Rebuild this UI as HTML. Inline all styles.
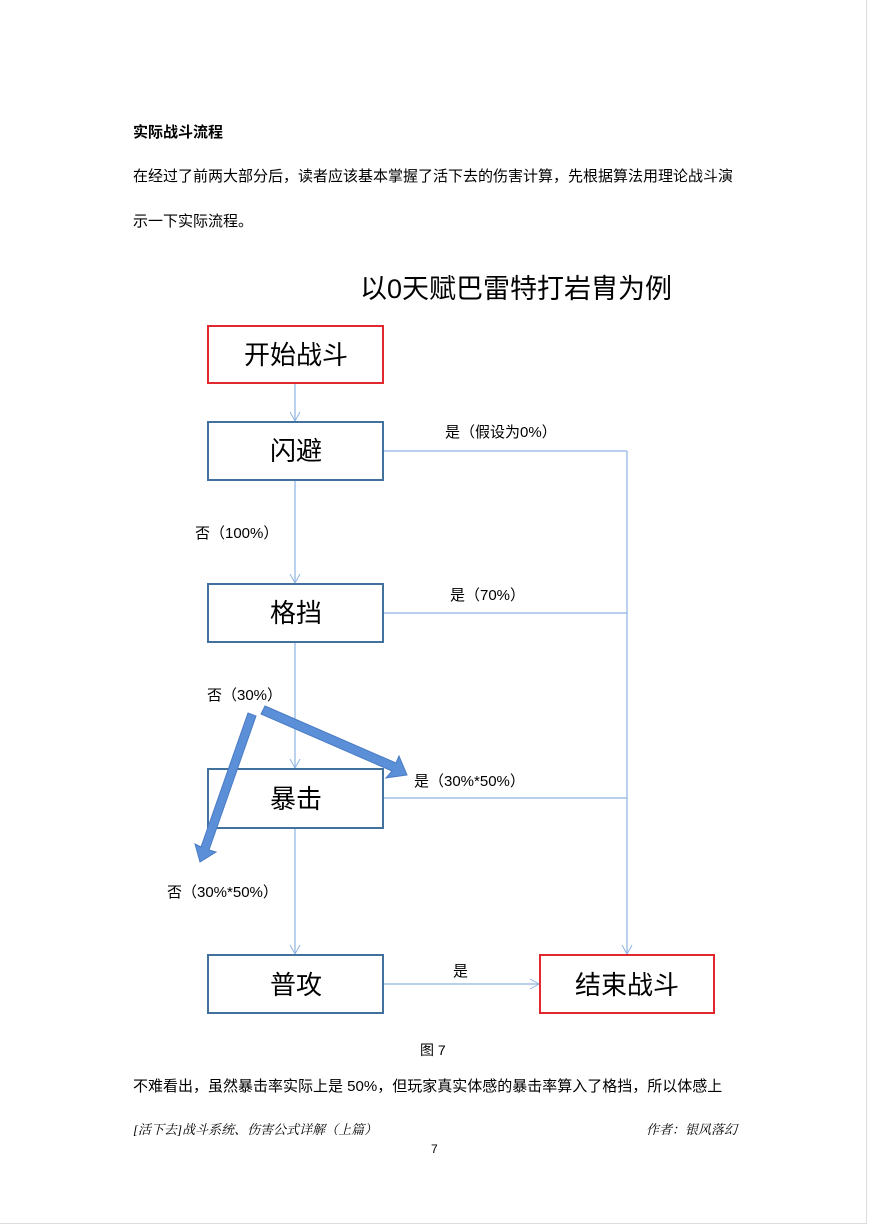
<!DOCTYPE html>
<html><head><meta charset="utf-8"><style>
body{margin:0;width:871px;height:1228px;background:#fff;position:relative;overflow:hidden;font-family:"Liberation Sans","Noto Sans CJK SC",sans-serif;color:#000}
.t{position:absolute;white-space:nowrap}
</style></head><body>
<div style="position:absolute;left:0;top:0;width:866px;height:1223px;border-right:1px solid #ddd;border-bottom:1px solid #ddd"></div>
<div class="t" style="left:133px;top:121px;font-size:15px;font-weight:bold">实际战斗流程</div>
<div class="t" style="left:133px;top:165px;font-size:15px">在经过了前两大部分后，读者应该基本掌握了活下去的伤害计算，先根据算法用理论战斗演</div>
<div class="t" style="left:133px;top:210px;font-size:15px">示一下实际流程。</div>
<div class="t" style="left:360px;top:267px;font-size:27px">以0天赋巴雷特打岩胄为例</div>
<svg width="871" height="1228" style="position:absolute;left:0;top:0" font-family="Liberation Sans, Noto Sans CJK SC, sans-serif">
<defs><marker id="a" markerWidth="12" markerHeight="12" refX="10" refY="6" orient="auto" markerUnits="userSpaceOnUse"><path d="M1,1 L10,6 L1,11" fill="none" stroke="#8eb4e3" stroke-width="1"/></marker></defs>
<g stroke="#8eb4e3" stroke-width="1.2" fill="none">
<line x1="295" y1="383" x2="295" y2="421" marker-end="url(#a)"/>
<line x1="295" y1="480" x2="295" y2="583" marker-end="url(#a)"/>
<line x1="295" y1="642" x2="295" y2="768" marker-end="url(#a)"/>
<line x1="295" y1="828" x2="295" y2="954" marker-end="url(#a)"/>
<line x1="383" y1="451" x2="627" y2="451"/>
<line x1="383" y1="613" x2="627" y2="613"/>
<line x1="383" y1="798" x2="627" y2="798"/>
<line x1="627" y1="451" x2="627" y2="954" marker-end="url(#a)"/>
<line x1="383" y1="984" x2="539" y2="984" marker-end="url(#a)"/>
</g>
<g stroke-width="2" fill="#fff">
<rect x="208" y="326" width="175" height="57" stroke="#e0282e"/>
<rect x="208" y="422" width="175" height="58" stroke="#41719c"/>
<rect x="208" y="584" width="175" height="58" stroke="#41719c"/>
<rect x="208" y="769" width="175" height="59" stroke="#41719c"/>
<rect x="208" y="955" width="175" height="58" stroke="#41719c"/>
<rect x="540" y="955" width="174" height="58" stroke="#e0282e"/>
</g>
<g font-size="26" text-anchor="middle">
<text x="296" y="364">开始战斗</text>
<text x="296" y="460">闪避</text>
<text x="296" y="622">格挡</text>
<text x="296" y="808">暴击</text>
<text x="296" y="994">普攻</text>
<text x="627" y="994">结束战斗</text>
</g>
<g font-size="15">
<text x="445" y="437">是（假设为0%）</text>
<text x="195" y="538">否（100%）</text>
<text x="450" y="600">是（70%）</text>
<text x="207" y="700">否（30%）</text>
<text x="414" y="786">是（30%*50%）</text>
<text x="167" y="897">否（30%*50%）</text>
<text x="453" y="976">是</text>
</g>
<g fill="#5b8fd8" stroke="#4a7cc4" stroke-width="1">
<polygon points="265,706 396,763 399,756 407,775 386,778 392,771 261,714"/>
<polygon points="248,713 256,716 209,850 216,852 200,862 195,844 201,847"/>
</g>
</svg>
<div class="t" style="left:420px;top:1040px;font-size:14px">图 7</div>
<div class="t" style="left:133px;top:1075px;font-size:15px">不难看出，虽然暴击率实际上是 50%，但玩家真实体感的暴击率算入了格挡，所以体感上</div>
<div class="t" style="left:133px;top:1119px;font-size:13px;font-style:italic;font-family:'Liberation Serif','Noto Serif CJK SC',serif">[活下去]战斗系统、伤害公式详解（上篇）</div>
<div class="t" style="left:646px;top:1119px;font-size:13px;font-style:italic;font-family:'Liberation Serif','Noto Serif CJK SC',serif">作者：银风落幻</div>
<div class="t" style="left:431px;top:1142px;font-size:12px">7</div>
</body></html>
